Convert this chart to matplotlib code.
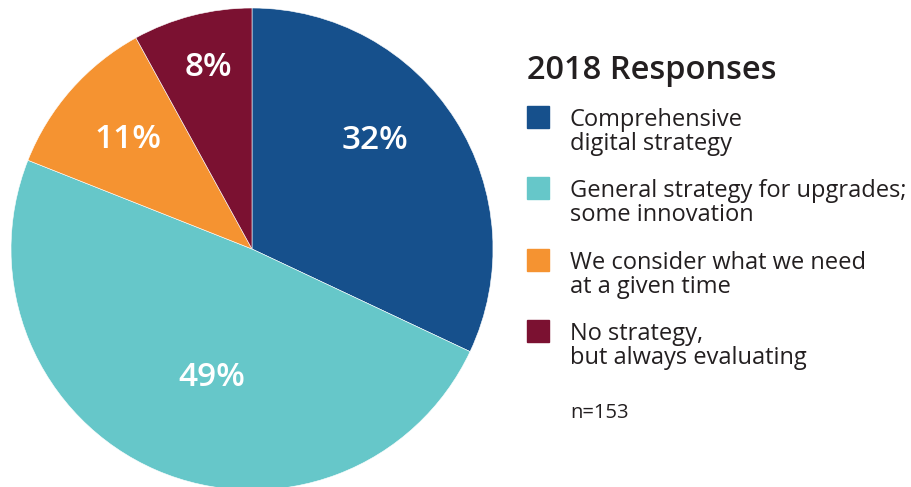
import numpy as np
import matplotlib
matplotlib.use("Agg")
import matplotlib.pyplot as plt
from matplotlib.patches import Rectangle

plt.rcParams['font.family'] = ['Open Sans', 'DejaVu Sans']

# survey answers, clockwise from 12 o'clock
categories = [
    ["Comprehensive", "digital strategy"],
    ["General strategy for upgrades;", "some innovation"],
    ["We consider what we need", "at a given time"],
    ["No strategy,", "but always evaluating"],
]
shares = [32, 49, 11, 8]
colors = ["#16508c", "#66c7c9", "#f59331", "#7b1131"]
title = "2018 Responses"
note = "n=153"

W, H = 912, 487
fig = plt.figure(figsize=(W / 100, H / 100), dpi=100)

# pie axes: centre at (252, 249) px, radius 241 px
cx, cy, r = 252, 249, 241
ax = fig.add_axes([(cx - r) / W, (H - cy - r) / H, 2 * r / W, 2 * r / H])
wedges, _ = ax.pie(shares, colors=colors, startangle=90, counterclock=False,
                   radius=1, wedgeprops=dict(edgecolor="white", linewidth=0.4))
ax.set_xlim(-1, 1)
ax.set_ylim(-1, 1)
ax.set_aspect("equal")
ax.axis("off")

# label placement: distance from centre and small angle nudge per wedge
label_dist = [0.68, 0.56, 0.685, 0.775]
label_nudge = [9, 6, 0, -1]
for w, s, d, n in zip(wedges, shares, label_dist, label_nudge):
    ang = np.deg2rad((w.theta1 + w.theta2) / 2 + n)
    ax.text(d * np.cos(ang), d * np.sin(ang), f"{s}%", color="white",
            fontsize=24, fontweight="semibold", ha="center", va="center")

def fx(px):
    return px / W

def fy(py):
    return 1 - py / H

fig.text(fx(527), fy(79), title, fontsize=23.5, fontweight="semibold",
         color="#231f20", va="baseline", ha="left")

sq = 22
for i, (lines, c) in enumerate(zip(categories, colors)):
    top = 106 + i * 71.3
    fig.patches.append(Rectangle((fx(527), fy(top + sq)), sq / W, sq / H,
                                 transform=fig.transFigure, color=c))
    for j, line in enumerate(lines):
        fig.text(fx(570), fy(top + 20 + j * 24), line, fontsize=17,
                 color="#231f20", va="baseline", ha="left")

fig.text(fx(570), fy(418), note, fontsize=14.5, color="#231f20",
         va="baseline", ha="left")

fig.savefig("out.png", dpi=100)
